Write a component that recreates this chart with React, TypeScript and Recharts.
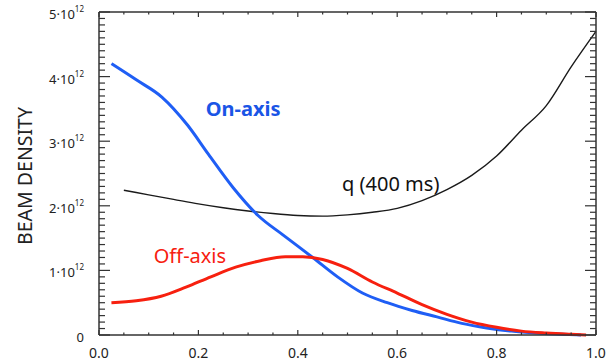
import { Line, LineChart, XAxis, YAxis } from "recharts";

// values in units of 10^12
const ON_AXIS_X = [0.025, 0.075, 0.127, 0.178, 0.22, 0.27, 0.32, 0.37, 0.43, 0.48, 0.53, 0.58, 0.63, 0.68, 0.73, 0.78, 0.83, 0.88, 0.93, 0.97];
const ON_AXIS_Y = [4.2, 3.95, 3.68, 3.25, 2.8, 2.28, 1.85, 1.55, 1.2, 0.9, 0.65, 0.5, 0.38, 0.28, 0.18, 0.11, 0.06, 0.03, 0.01, 0.0];

const OFF_AXIS_X = [0.025, 0.075, 0.125, 0.175, 0.225, 0.275, 0.325, 0.375, 0.41, 0.45, 0.5, 0.55, 0.6, 0.65, 0.7, 0.75, 0.8, 0.85, 0.9, 0.95, 0.98];
const OFF_AXIS_Y = [0.5, 0.53, 0.6, 0.74, 0.9, 1.05, 1.15, 1.21, 1.21, 1.17, 1.03, 0.82, 0.65, 0.47, 0.32, 0.2, 0.12, 0.06, 0.03, 0.01, 0.0];

const Q_X = [0.05, 0.1, 0.15, 0.2, 0.25, 0.3, 0.35, 0.4, 0.45, 0.5, 0.55, 0.6, 0.65, 0.7, 0.75, 0.8, 0.85, 0.9, 0.95, 1.0];
const Q_Y = [2.24, 2.17, 2.1, 2.03, 1.97, 1.92, 1.88, 1.85, 1.84, 1.86, 1.9, 1.96, 2.08, 2.25, 2.47, 2.77, 3.17, 3.55, 4.15, 4.7];

const X_MAJOR = [0, 0.2, 0.4, 0.6, 0.8, 1.0];
const X_LABELS = ["0.0", "0.2", "0.4", "0.6", "0.8", "1.0"];
const Y_MAJOR = [0, 1, 2, 3, 4, 5];

const toPoints = (xs: number[], ys: number[]) => xs.map((x, i) => ({ x, y: ys[i] }));
const onAxis = toPoints(ON_AXIS_X, ON_AXIS_Y);
const offAxis = toPoints(OFF_AXIS_X, OFF_AXIS_Y);
const qProfile = toPoints(Q_X, Q_Y);

const W = 610;
const H = 363;
const MARGIN = { top: 12, right: 14, left: 0, bottom: 7 };
const Y_AXIS_W = 99;
const X_AXIS_H = 21;
const PLOT_W = W - MARGIN.left - MARGIN.right - Y_AXIS_W;
const PLOT_H = H - MARGIN.top - MARGIN.bottom - X_AXIS_H;
const X_MINOR = 4; // 0.05 steps
const Y_MINOR = 10; // 0.1e12 steps

const AXIS = "#333";
const BLUE = "#1f5ef5";
const RED = "#f7200f";
const FONT = "'Noto Sans', sans-serif";

// annotation anchors, in data units
const NOTES = [
  { text: "On-axis", x: 0.29, y: 3.5, color: "#1a55e6", weight: 700 },
  { text: "Off-axis", x: 0.183, y: 1.22, color: RED, weight: 400 },
  { text: "q (400 ms)", x: 0.587, y: 2.34, color: "#111", weight: 400 },
];
const noteLeft = (x: number) => MARGIN.left + Y_AXIS_W + x * PLOT_W;
const noteTop = (y: number) => MARGIN.top + PLOT_H - (y / 5) * PLOT_H;

function BottomTick(props: any) {
  const { x, y, payload } = props;
  const v = payload.value;
  const idx = Math.round(v * 5);
  const step = PLOT_W / (5 * X_MINOR);
  const minors = idx < 5 ? [1, 2, 3].map((k) => x + k * step) : [];
  return (
    <g>
      <rect x={x - 0.6} y={y - 5} width={1.2} height={5} fill={AXIS} />
      <rect x={x - 0.6} y={y - PLOT_H} width={1.2} height={5} fill={AXIS} />
      {minors.map((mx) => (
        <g key={mx}>
          <rect x={mx - 0.6} y={y - 2.5} width={1.2} height={2.5} fill={AXIS} />
          <rect x={mx - 0.6} y={y - PLOT_H} width={1.2} height={2.5} fill={AXIS} />
        </g>
      ))}
      {idx === 5 && <rect x={x - 0.75} y={y - PLOT_H} width={1.5} height={PLOT_H} fill={AXIS} />}
      <text x={x} y={y + 17} textAnchor="middle" dominantBaseline="central" fontSize={14} fill="#222" fontFamily={FONT}>
        {X_LABELS[idx]}
      </text>
    </g>
  );
}

function LeftTick(props: any) {
  const { x, y, payload } = props;
  const v = Math.round(payload.value);
  const step = PLOT_H / (5 * Y_MINOR);
  const minors = v < 5 ? [1, 2, 3, 4, 5, 6, 7, 8, 9].map((k) => y - k * step) : [];
  return (
    <g>
      <rect x={x} y={y - 0.6} width={11} height={1.2} fill={AXIS} />
      <rect x={x + PLOT_W - 11} y={y - 0.6} width={11} height={1.2} fill={AXIS} />
      {minors.map((my) => (
        <g key={my}>
          <rect x={x} y={my - 0.6} width={6} height={1.2} fill={AXIS} />
          <rect x={x + PLOT_W - 6} y={my - 0.6} width={6} height={1.2} fill={AXIS} />
        </g>
      ))}
      {v === 5 && <rect x={x} y={y - 0.75} width={PLOT_W} height={1.5} fill={AXIS} />}
      <text x={x - 15} y={y + 2} textAnchor="end" dominantBaseline="central" fontSize={13} fill="#222" fontFamily={FONT}>
        {v === 0 ? (
          "0"
        ) : (
          <>
            {`${v}·10`}
            <tspan dy={-6} fontSize={8}>
              12
            </tspan>
          </>
        )}
      </text>
    </g>
  );
}

export default function App() {
  return (
    <div style={{ position: "absolute", left: 0, top: 0, width: W, height: H, fontFamily: FONT }}>
      <LineChart width={W} height={H} margin={MARGIN}>
        <XAxis
          type="number"
          dataKey="x"
          domain={[0, 1]}
          ticks={X_MAJOR}
          interval={0}
          height={X_AXIS_H}
          tickSize={0}
          tickMargin={0}
          tickLine={false}
          tick={<BottomTick />}
          axisLine={{ stroke: AXIS, strokeWidth: 1.5 }}
        />
        <YAxis
          type="number"
          domain={[0, 5]}
          ticks={Y_MAJOR}
          interval={0}
          width={Y_AXIS_W}
          tickSize={0}
          tickMargin={0}
          tickLine={false}
          tick={<LeftTick />}
          axisLine={{ stroke: AXIS, strokeWidth: 1.5 }}
        />
        <Line data={qProfile} dataKey="y" type="monotone" stroke="#1a1a1a" strokeWidth={1.4} dot={false} isAnimationActive={false} />
        <Line data={onAxis} dataKey="y" type="monotone" stroke={BLUE} strokeWidth={3} dot={false} isAnimationActive={false} />
        <Line data={offAxis} dataKey="y" type="monotone" stroke={RED} strokeWidth={3} dot={false} isAnimationActive={false} />
      </LineChart>
      {NOTES.map((n) => (
        <div
          key={n.text}
          style={{
            position: "absolute",
            left: noteLeft(n.x),
            top: noteTop(n.y),
            transform: "translate(-50%, -50%)",
            whiteSpace: "nowrap",
            fontSize: 20,
            lineHeight: 1,
            fontWeight: n.weight,
            color: n.color,
          }}
        >
          {n.text}
        </div>
      ))}
      <div
        style={{
          position: "absolute",
          left: 25,
          top: MARGIN.top + PLOT_H / 2 + 2,
          transform: "translate(-50%, -50%) rotate(-90deg)",
          whiteSpace: "nowrap",
          fontSize: 19.5,
          lineHeight: 1,
          color: "#222",
        }}
      >
        BEAM DENSITY
      </div>
    </div>
  );
}
